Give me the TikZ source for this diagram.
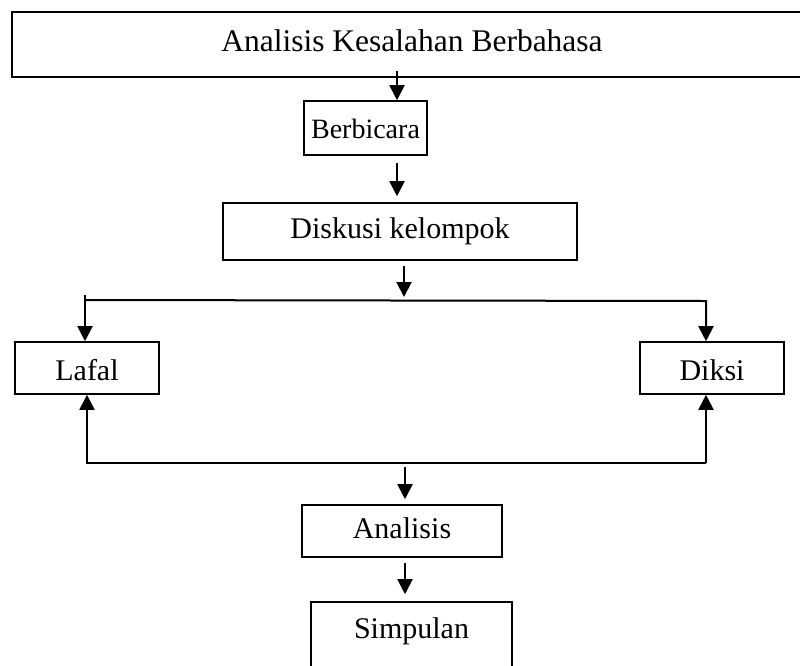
\documentclass[tikz,border=0pt]{standalone}
\usepackage{fontspec}
\setmainfont{Liberation Serif}
\usetikzlibrary{arrows.meta,calc}
\begin{document}
\begin{tikzpicture}[x=1pt,y=-1pt,
  boxnode/.style={draw=black, line width=1.6pt, inner sep=0pt,
    font=\fontsize{30}{36}\selectfont, text height=20.4pt, text depth=6pt},
  conn/.style={line width=2pt},
  arr/.style={conn, -{Triangle[width=15pt,length=15pt]}}]
\useasboundingbox (0,0) rectangle (800,665);
\clip (0,0) rectangle (800,665);
% boxes
\node[boxnode, font=\fontsize{31.5}{36}\selectfont, minimum width=800pt, minimum height=65pt] (top) at (412,44.5) {Analisis Kesalahan Berbahasa};
\node[boxnode, font=\fontsize{28}{32}\selectfont, minimum width=123pt, minimum height=54pt, text height=24pt, text depth=4pt] (berb) at (365.5,128) {Berbicara};
\node[boxnode, minimum width=354pt, minimum height=57pt] (disk) at (400,231.5) {Diskusi kelompok};
\node[boxnode, minimum width=144pt, minimum height=52pt, text height=28pt, text depth=4pt] (lafal) at (87,368) {Lafal};
\node[boxnode, minimum width=144pt, minimum height=52pt, text height=28pt, text depth=4pt] (diksi) at (712,368) {Diksi};
\node[boxnode, minimum width=200pt, minimum height=52pt] (anal) at (402,531) {Analisis};
\node[boxnode, minimum width=201pt, minimum height=88pt, text depth=36pt] (simp) at (411.5,646) {Simpulan};
% connectors
\coordinate (c1) at (397,71);
\draw[arr] (c1) -- (c1 |- berb.north);
\coordinate (c2) at (397,163);
\coordinate (c2e) at ($(c2 |- disk.north)+(0,-6)$);
\draw[arr] (c2) -- (c2e);
\coordinate (c3) at (404,266);
\coordinate (c3e) at (404,297);
\draw[arr] (c3) -- (c3e);
\coordinate (tlt) at (85,295);
\coordinate (tl) at (85,300);
\coordinate (tr) at (706,301);
\draw[arr] (tlt) -- (tlt |- lafal.north);
\draw[arr] (tl) -- (tr) -- (tr |- diksi.north);
\coordinate (bl) at (87,463);
\coordinate (br) at (706,463);
\draw[arr] (br) -- (br |- diksi.south);
\draw[arr] (br) -- (bl) -- (bl |- lafal.south);
\coordinate (c4) at (405,467);
\coordinate (c4e) at ($(c4 |- anal.north)+(0,-5)$);
\draw[arr] (c4) -- (c4e);
\coordinate (c5) at (405,563);
\coordinate (c5e) at ($(c5 |- simp.north)+(0,-7)$);
\draw[arr] (c5) -- (c5e);
\end{tikzpicture}
\end{document}
